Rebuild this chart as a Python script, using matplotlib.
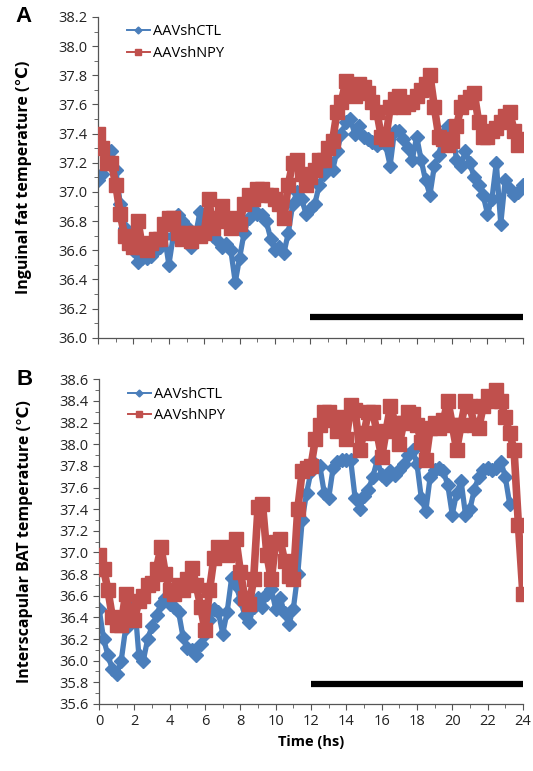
import numpy as np
import matplotlib
matplotlib.use("Agg")
import matplotlib.pyplot as plt
from matplotlib.ticker import MultipleLocator, FormatStrFormatter


# ============================================================
# Data (0.25 h steps)
# ============================================================

time_h = np.arange(0, 24.01, 0.25)

# Panel A - inguinal fat temperature
ing_ctl = [
    37.08, 37.12, 37.22, 37.28, 37.15, 36.92, 36.75, 36.72, 36.60, 36.52,
    36.55, 36.55, 36.56, 36.60, 36.62, 36.70, 36.50, 36.70, 36.84, 36.80,
    36.76, 36.62, 36.70, 36.86, 36.78, 36.72, 36.70, 36.66, 36.62, 36.64,
    36.60, 36.38, 36.55, 36.72, 36.82, 36.88, 36.85, 36.84, 36.80, 36.68,
    36.60, 36.62, 36.58, 36.72, 36.92, 37.00, 36.95, 36.85, 36.88, 36.92,
    37.05, 37.12, 37.22, 37.15, 37.28, 37.40, 37.48, 37.50, 37.40, 37.45,
    37.38, 37.36, 37.34, 37.32, 37.34, 37.32, 37.18, 37.42, 37.42, 37.36,
    37.30, 37.22, 37.38, 37.22, 37.08, 36.98, 37.18, 37.25, 37.40, 37.45,
    37.45, 37.22, 37.18, 37.28, 37.20, 37.10, 37.05, 36.98, 36.85, 36.95,
    37.20, 36.78, 37.08, 37.02, 36.98, 37.00, 37.05,
]
ing_npy = [
    37.40, 37.30, 37.20, 37.20, 37.05, 36.85, 36.70, 36.65, 36.62, 36.80,
    36.62, 36.60, 36.65, 36.68, 36.68, 36.78, 36.82, 36.82, 36.72, 36.68,
    36.72, 36.66, 36.72, 36.70, 36.72, 36.95, 36.75, 36.82, 36.90, 36.80,
    36.75, 36.82, 36.78, 36.92, 36.98, 36.95, 37.02, 37.02, 36.98, 36.98,
    36.95, 36.92, 36.82, 37.05, 37.20, 37.22, 37.12, 37.05, 37.10, 37.15,
    37.22, 37.22, 37.30, 37.35, 37.55, 37.62, 37.76, 37.70, 37.66, 37.74,
    37.72, 37.68, 37.62, 37.55, 37.38, 37.36, 37.58, 37.64, 37.66, 37.58,
    37.60, 37.62, 37.66, 37.70, 37.74, 37.80, 37.58, 37.38, 37.36, 37.32,
    37.35, 37.45, 37.58, 37.62, 37.65, 37.68, 37.48, 37.38, 37.38, 37.42,
    37.44, 37.48, 37.52, 37.55, 37.42, 37.32, 37.36,
]

# Panel B - interscapular BAT temperature
bat_ctl = [
    36.48, 36.20, 36.05, 35.92, 35.88, 36.00, 36.30, 36.58, 36.55, 36.05,
    36.00, 36.20, 36.32, 36.42, 36.52, 36.58, 36.52, 36.50, 36.45, 36.22,
    36.12, 36.10, 36.05, 36.15, 36.25, 36.38, 36.48, 36.45, 36.25, 36.45,
    36.76, 36.70, 36.56, 36.42, 36.36, 36.50, 36.58, 36.50, 36.62, 36.66,
    36.48, 36.58, 36.44, 36.34, 36.48, 36.80, 37.30, 37.55, 37.75, 37.82,
    37.80, 37.55, 37.50, 37.78, 37.84, 37.85, 37.85, 37.85, 37.50, 37.40,
    37.52, 37.58, 37.70, 37.85, 37.72, 37.68, 37.75, 37.72, 37.76, 37.82,
    37.90, 37.95, 37.82, 37.50, 37.38, 37.70, 37.76, 37.78, 37.75, 37.62,
    37.35, 37.55, 37.66, 37.35, 37.40, 37.58, 37.70, 37.76, 37.78, 37.76,
    37.78, 37.84, 37.70, 37.45, np.nan, np.nan, np.nan,
]
bat_npy = [
    36.98, 36.85, 36.65, 36.40, 36.33, 36.33, 36.62, 36.45, 36.38, 36.55,
    36.60, 36.70, 36.72, 36.85, 37.05, 36.80, 36.65, 36.62, 36.70, 36.65,
    36.75, 36.86, 36.70, 36.50, 36.28, 36.65, 36.95, 37.05, 37.00, 36.98,
    37.05, 37.12, 36.82, 36.58, 36.52, 36.75, 37.42, 37.45, 36.98, 36.75,
    37.10, 37.12, 36.92, 36.78, 36.75, 37.40, 37.75, 37.78, 37.80, 38.05,
    38.18, 38.30, 38.30, 38.22, 38.12, 38.25, 38.05, 38.36, 38.32, 37.95,
    38.10, 38.30, 38.30, 38.10, 37.88, 38.12, 38.35, 38.20, 38.00, 38.20,
    38.30, 38.28, 38.18, 38.02, 37.85, 38.15, 38.20, 38.15, 38.22, 38.40,
    38.18, 37.95, 38.18, 38.40, 38.35, 38.18, 38.15, 38.35, 38.45, 38.40,
    38.50, 38.40, 38.25, 38.10, 37.95, 37.25, 36.62,
]

dark_phase = (12, 24)
labels = ["AAVshCTL", "AAVshNPY"]


# ============================================================
# Style
# ============================================================

plt.rcParams.update({
    "font.family": ["Open Sans", "DejaVu Sans"],
    "font.size": 10,
    "axes.linewidth": 0.9,
    "axes.edgecolor": "#555555",
    "xtick.color": "#555555",
    "ytick.color": "#555555",
    "xtick.labelcolor": "#222222",
    "ytick.labelcolor": "#222222",
    "figure.facecolor": "white",
    "axes.facecolor": "white",
})

BLUE = "#4a7ebb"
RED = "#c0504d"


def draw_panel(ax, ctl, npy, ylim, bar_level, ylabel, letter):
    ax.plot(time_h, ctl, color=BLUE, lw=3.8, marker="D", ms=7,
            mec=BLUE, mfc=BLUE, label=labels[0], zorder=2,
            solid_joinstyle="round")
    ax.plot(time_h, npy, color=RED, lw=5.5, marker="s", ms=9.5,
            mec=RED, mfc=RED, label=labels[1], zorder=3,
            solid_joinstyle="round")

    # dark phase bar
    ax.hlines(bar_level, dark_phase[0], dark_phase[1], color="black", lw=4.5, zorder=4)

    ax.set_xlim(0, 24)
    ax.set_ylim(*ylim)
    ax.xaxis.set_major_locator(MultipleLocator(2))
    ax.xaxis.set_minor_locator(MultipleLocator(1))
    ax.yaxis.set_major_locator(MultipleLocator(0.2))
    ax.yaxis.set_minor_locator(MultipleLocator(0.1))
    ax.yaxis.set_major_formatter(FormatStrFormatter("%.1f"))
    ax.tick_params(which="both", direction="out", labelsize=10.5)
    ax.tick_params(which="major", length=4)
    ax.tick_params(which="minor", length=3)
    ax.spines["top"].set_visible(False)
    ax.spines["right"].set_visible(False)

    ax.set_ylabel(ylabel, fontsize=11.5, fontweight="bold")
    ax.yaxis.set_label_coords(-0.155, 0.5)

    leg = ax.legend(loc="upper left", bbox_to_anchor=(0.05, 1.0), frameon=False,
                    fontsize=10.5, handlelength=1.6, handletextpad=0.2,
                    labelspacing=0.45, borderaxespad=0.1, markerscale=0.5)
    for line in leg.get_lines():
        line.set_linewidth(1.4)

    ax.text(-0.195, 1.0, letter, transform=ax.transAxes, fontsize=16,
            fontweight="bold", va="center", ha="left", family="Liberation Sans")


# ============================================================
# Plot
# ============================================================

fig = plt.figure(figsize=(5.33, 7.71), dpi=100)

ax_a = fig.add_axes([0.184, 0.562, 0.797, 0.416])
ax_b = fig.add_axes([0.186, 0.087, 0.795, 0.421])

draw_panel(ax_a, ing_ctl, ing_npy, (36.0, 38.2), 36.14,
           "Inguinal fat temperature (\u2103)", "A")
ax_a.tick_params(axis="x", labelbottom=False)

draw_panel(ax_b, bat_ctl, bat_npy, (35.6, 38.6), 35.78,
           "Interscapular BAT temperature (\u2103)", "B")
ax_b.set_xlabel("Time (hs)", fontsize=10.5, fontweight="bold")

fig.savefig("out.png", dpi=100)
plt.close(fig)
